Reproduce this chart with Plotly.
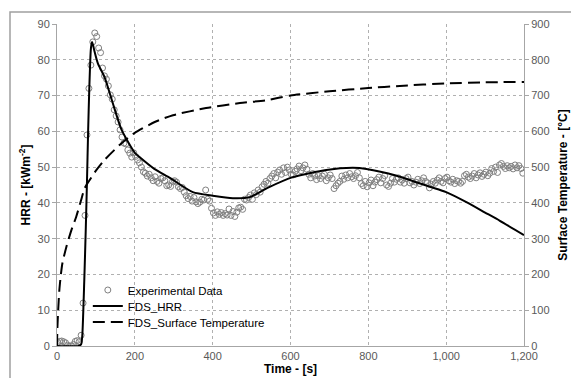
import plotly.graph_objects as go

# ---------------- data ----------------
exp_hrr = [
    1.0, 1.3, 1.4, 1.2, 0.9, 0.2, 0.0, 0.0, 0.4, 1.3, 1.5, 1.2,
    3, 12, 36.5, 59, 72, 78.5, 85, 87.5, 86.5, 83.3,
    82, 77.7, 75.5, 74.6, 72.7, 70.2, 69, 66, 64.3, 62.6,
    60.4, 58.4, 56.7, 56.5, 54.8, 53.9, 52.8, 54, 53, 52,
    51.2, 50, 48.7, 48.3,
    47.5, 48.0, 47.0, 46.2, 47.3, 46.0, 45.5, 46.8, 47.0, 46.2,
    44.8, 45.0, 44.6, 46.0, 46.2, 45.8, 44.5, 44.0, 44.3, 43.0,
    42.0, 41.2, 41.8, 40.5, 41.5, 40.3, 39.8, 40.2, 41.0, 40.8,
    43.6, 41.0, 40.5, 38.5, 37.2, 36.5, 37.5, 36.8, 37.3, 36.5,
    37.0, 36.6, 38.3, 36.5, 37.6, 36.2, 37.4, 38.6, 38.8, 38.2,
    41.0, 40.8, 41.5, 42.2, 41.0, 42.8, 42.3, 43.6, 43.0, 44.5,
    45.2, 46.0, 45.5, 46.8, 47.5, 48.2, 47.0, 48.6, 49.2, 48.0,
    49.8, 48.5, 50.0, 49.2, 48.0, 47.8, 48.8, 49.5, 50.3, 49.0,
    49.8, 50.6, 49.4, 48.0, 47.0, 48.2, 47.5, 46.5, 47.6, 46.8,
    47.5, 48.0, 46.2, 47.0, 47.8, 46.8, 44.0, 44.8, 45.5, 46.0,
    47.5, 46.6, 47.8, 47.0, 48.2, 47.3, 46.8, 47.6, 48.5, 47.0,
    45.4, 44.8, 46.0, 44.5, 45.6, 46.4, 44.8, 45.8, 46.5, 47.2,
    45.6, 46.8, 47.6, 45.0, 44.6, 45.5, 46.8, 45.8, 46.6, 47.0,
    45.8, 46.4, 45.5, 46.8, 47.2, 45.6, 46.0, 45.0, 45.8, 46.6,
    45.4, 46.2, 47.0, 46.0, 45.6, 44.2, 45.2, 46.0, 45.5, 46.4,
    47.0, 46.0, 45.6, 46.8, 47.2, 46.2, 45.8, 46.6, 45.4, 46.2,
    46.0, 45.5, 46.0, 47.6, 48.0, 47.2, 46.8, 47.5, 48.2, 47.0,
    47.8, 48.4, 47.4, 48.0, 48.6, 47.6, 48.3, 49.6, 48.8, 50.0,
    48.5, 50.6, 51.0, 50.2, 49.6, 50.4, 49.8, 50.2, 49.5, 50.6,
    49.8, 50.4, 49.6, 48.3,
]
exp_time = [2 + 5 * i for i in range(len(exp_hrr))]

fds_hrr_time = [0, 55, 62, 65, 70, 74, 77, 80, 83, 87, 90, 93, 96, 105, 122, 143,
                166, 200, 212, 250, 290, 349, 400, 452, 495, 541, 606, 692, 760,
                795, 873, 958, 1000, 1052, 1100, 1138, 1200]
fds_hrr = [0, 0, 0.5, 3, 18, 33, 46, 60, 72, 83, 85, 84, 82.5, 79, 75.2, 68,
           60.4, 54, 52.8, 49.5, 47, 43, 42, 41.3, 41.6, 44.2, 47.2, 49.2, 49.8,
           49.5, 47.6, 44.5, 43.0, 40.2, 37.3, 35, 31]

temp_time = [0, 1, 3, 6, 10, 14, 24, 37, 49, 62, 71, 84, 100, 122, 166, 199,
             251, 298, 383, 470, 538, 600, 700, 800, 881, 1000, 1100, 1200]
temp_vals = [0, 50, 100, 156, 200, 232, 277, 324, 360, 408, 441, 464, 490, 520,
             567, 595, 626, 645, 665, 679, 687, 700, 712, 721, 727, 734, 737, 738]

x_ticks = [0, 200, 400, 600, 800, 1000, 1200]
y_ticks = [0, 10, 20, 30, 40, 50, 60, 70, 80, 90]
y2_ticks = [0, 100, 200, 300, 400, 500, 600, 700, 800, 900]

FONT = "Liberation Sans, Arial, sans-serif"
TICKC = "#595959"
GRIDC = "#b0b0b0"
AXC = "#a6a6a6"

fig = go.Figure()
fig.add_trace(go.Scatter(
    x=exp_time, y=exp_hrr, mode="markers", name="Experimental Data",
    legend="legend",
    marker=dict(symbol="circle", size=6, color="rgba(255,255,255,0)",
                line=dict(color="#808080", width=1)),
))
fig.add_trace(go.Scatter(
    x=fds_hrr_time, y=fds_hrr, mode="lines", name="FDS_HRR",
    legend="legend2",
    line=dict(color="black", width=2, shape="spline", smoothing=0.6),
))
fig.add_trace(go.Scatter(
    x=temp_time, y=temp_vals, mode="lines", name="FDS_Surface Temperature",
    yaxis="y2", legend="legend3",
    line=dict(color="black", width=2, dash="12px,6px", shape="spline", smoothing=0.6),
))

# outer chart border
fig.add_shape(type="rect", xref="paper", yref="paper",
              x0=(10 - 57) / 467, x1=(580 - 57) / 467,
              y0=(346 - 390) / 322, y1=(346 - 12) / 322,
              line=dict(color="#a0a0a0", width=1.5), fillcolor="rgba(0,0,0,0)",
              layer="below")
# white legend backdrop (hides gridlines behind the legend)
fig.add_shape(type="rect", xref="paper", yref="paper",
              x0=(100 - 57) / 467, x1=(262 - 57) / 467,
              y0=(346 - 331) / 322, y1=(346 - 282) / 322,
              line=dict(width=0), fillcolor="white", layer="between")

LEG_COMMON = dict(xanchor="left", yanchor="middle", bgcolor="rgba(255,255,255,0)",
                  borderwidth=0, font=dict(family=FONT, size=11.5, color="black"),
                  itemwidth=30)

fig.update_layout(
    width=571, height=378,
    margin=dict(l=57, r=47, t=24, b=32, autoexpand=False),
    paper_bgcolor="white", plot_bgcolor="white",
    font=dict(family=FONT, size=11, color="black"),
    showlegend=True,
    legend=dict(x=0.066, y=(346 - 290) / 322, **LEG_COMMON),
    legend2=dict(x=0.066, y=(346 - 306) / 322, **LEG_COMMON),
    legend3=dict(x=0.066, y=(346 - 322) / 322, **LEG_COMMON),
    xaxis=dict(range=[0, 1200], tickvals=x_ticks, tickformat=",",
               showgrid=True, gridcolor=GRIDC, griddash="dot", gridwidth=1,
               showline=True, linecolor=AXC, linewidth=1, automargin=False,
               ticks="", zeroline=False,
               tickfont=dict(family=FONT, size=11, color=TICKC),
               title=dict(text="<b>Time - [s]</b>", standoff=2,
                          font=dict(family=FONT, size=12, color="black"))),
    yaxis=dict(range=[0, 90], tickvals=y_ticks, automargin=False,
               showgrid=True, gridcolor=GRIDC, griddash="dot", gridwidth=1,
               showline=True, linecolor=AXC, linewidth=1,
               ticks="outside", ticklen=4, tickcolor=AXC, zeroline=False,
               tickfont=dict(family=FONT, size=11, color=TICKC),
               title=dict(text="<b>HRR - [kWm<sup>-2</sup>]</b>", standoff=4,
                          font=dict(family=FONT, size=12, color="black"))),
    yaxis2=dict(range=[0, 900], tickvals=y2_ticks, overlaying="y", side="right",
                automargin=False,
                showgrid=False, showline=True, linecolor=AXC, linewidth=1,
                ticks="outside", ticklen=4, tickcolor=AXC, zeroline=False,
                tickfont=dict(family=FONT, size=11, color=TICKC),
                title=dict(text="<b>Surface Temperature - [°C]</b>", standoff=10,
                           font=dict(family=FONT, size=12, color="black"))),
)

fig.write_html("out.html")
